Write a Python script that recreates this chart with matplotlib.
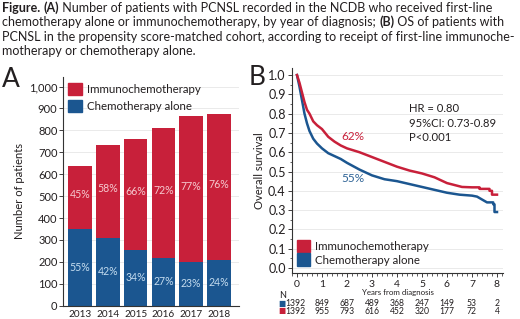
import numpy as np
import matplotlib
matplotlib.use("Agg")
import matplotlib.pyplot as plt
import matplotlib.transforms as mtransforms
from matplotlib.patches import Rectangle
from matplotlib.ticker import MultipleLocator, FuncFormatter

plt.rcParams['font.family'] = ['Lato', 'DejaVu Sans']

# Panel A data
years = ['2013', '2014', '2015', '2016', '2017', '2018']
chemo_n = [350, 309, 256, 219, 199, 210]
immuno_n = [288, 425, 504, 592, 667, 664]
chemo_pct = ['55%', '42%', '34%', '27%', '23%', '24%']
immuno_pct = ['45%', '58%', '66%', '72%', '77%', '76%']

# Panel B data (Kaplan-Meier)
t_immuno = [0, 0.1, 0.2, 0.3, 0.4, 0.5, 0.65, 0.8, 1.0, 1.25, 1.5, 1.75, 2.0, 2.5,
            3.0, 3.5, 4.0, 4.5, 5.0, 5.5, 6.0, 6.3, 6.6, 7.0, 7.3, 7.3, 7.7, 7.7,
            7.8, 7.8, 8.0]
s_immuno = [1.0, 0.96, 0.91, 0.86, 0.82, 0.80, 0.76, 0.74, 0.72, 0.68, 0.655, 0.635,
            0.62, 0.60, 0.575, 0.55, 0.525, 0.505, 0.49, 0.47, 0.44, 0.43, 0.42,
            0.418, 0.418, 0.41, 0.41, 0.40, 0.40, 0.38, 0.38]
t_chemo = [0, 0.1, 0.2, 0.3, 0.4, 0.5, 0.65, 0.8, 1.0, 1.25, 1.5, 1.75, 2.0, 2.5,
           3.0, 3.5, 4.0, 4.5, 5.0, 5.5, 6.0, 6.5, 7.0, 7.2, 7.4, 7.6, 7.85, 7.85,
           7.9, 7.9, 8.0]
s_chemo = [1.0, 0.94, 0.87, 0.80, 0.75, 0.71, 0.67, 0.645, 0.62, 0.595, 0.58, 0.565,
           0.545, 0.51, 0.48, 0.46, 0.45, 0.435, 0.42, 0.405, 0.39, 0.38, 0.375,
           0.37, 0.355, 0.34, 0.34, 0.33, 0.33, 0.29, 0.29]
risk_times = [0, 1, 2, 3, 4, 5, 6, 7, 8]
risk_chemo = [1392, 849, 687, 489, 368, 247, 149, 53, 2]
risk_immuno = [1392, 955, 793, 616, 452, 320, 177, 72, 4]
legend_labels = ['Immunochemotherapy', 'Chemotherapy alone']

red = '#C8203A'
blue = '#1B5690'
txt = '#231F20'
W, H = 520, 319

fig = plt.figure(figsize=(5.2, 3.19), dpi=100)
renderer = fig.canvas.get_renderer()


def fx(px):
    return px / W


def fy(py):
    return 1 - py / H


def fit(t, width_px, horizontal=True):
    # rescale a text so its length matches the reference (in pixels)
    bb = t.get_window_extent(renderer)
    cur = bb.width if horizontal else bb.height
    t.set_fontsize(t.get_fontsize() * width_px / cur)
    return t.get_fontsize()


# caption with bold pieces
caption = [
    [("Figure.", 'bold'), (" ", 'normal'), ("(A)", 'bold'),
     (" Number of patients with PCNSL recorded in the NCDB who received first-line", 'normal')],
    [("chemotherapy alone or immunochemotherapy, by year of diagnosis; ", 'normal'),
     ("(B)", 'bold'), (" OS of patients with", 'normal')],
    [("PCNSL in the propensity score-matched cohort, according to receipt of first-line immunoche-", 'normal')],
    [("motherapy or chemotherapy alone.", 'normal')],
]
for i, line in enumerate(caption):
    x = 2
    for s, w in line:
        t = fig.text(fx(x), fy(12 + i * 14.3), s, fontsize=9, fontweight=w, color=txt,
                     va='baseline', ha='left')
        x += t.get_window_extent(renderer).width

probe = fig.text(0, 0, legend_labels[0], fontsize=10)
leg_fs = fit(probe, 115)
probe.remove()


def square_legend(x, y_centers, w, h):
    for yc, c, lab in zip(y_centers, [red, blue], legend_labels):
        fig.patches.append(Rectangle((fx(x), fy(yc + h / 2)), w / W, h / H,
                                     transform=fig.transFigure, color=c))
        fig.text(fx(x + w + 5), fy(yc + 4), lab, fontsize=leg_fs, color=txt,
                 va='baseline', ha='left')


# ---- Panel A ----
axA = fig.add_axes([0.1212, 0.0417, 0.3385, 0.718])
pos = np.arange(len(years))
axA.bar(pos, chemo_n, width=0.85, color=blue, zorder=2)
axA.bar(pos, immuno_n, width=0.85, bottom=chemo_n, color=red, zorder=2)
for i in range(len(years)):
    axA.text(pos[i], chemo_n[i] / 2, chemo_pct[i], ha='center', va='center',
             fontsize=7.6, color='#C4DCEF', zorder=3)
    axA.text(pos[i], chemo_n[i] + immuno_n[i] / 2 + 12, immuno_pct[i], ha='center',
             va='center', fontsize=7.6, color='#F6C9CF', zorder=3)
axA.set_xlim(-0.61, 5.72)
axA.set_ylim(0, 1045)
axA.set_xticks(pos)
axA.set_xticklabels(years)
axA.yaxis.set_major_locator(MultipleLocator(100))
axA.yaxis.set_major_formatter(FuncFormatter(lambda v, p: f"{int(v):,}"))
axA.tick_params(axis='x', length=0, labelsize=7.2, pad=3, colors=txt)
axA.tick_params(axis='y', length=3, width=0.6, labelsize=8, pad=1, colors=txt)
axA.grid(axis='y', color='#E6E6E6', linewidth=0.6, zorder=0)
for sp in ['top', 'right']:
    axA.spines[sp].set_visible(False)
for sp in ['left', 'bottom']:
    axA.spines[sp].set_color('#333333')
    axA.spines[sp].set_linewidth(0.8)
ylabA = axA.set_ylabel('Number of patients', fontsize=9, color=txt, labelpad=3)
ylab_fs = fit(ylabA, 97, horizontal=False)
square_legend(68, [89, 106], 14, 12)
fig.text(fx(2), fy(87), 'A', fontsize=19, color=txt, ha='left', va='baseline')

# ---- Panel B ----
axB = fig.add_axes([0.5615, 0.1433, 0.4058, 0.6426])
axB.plot(t_chemo, s_chemo, color=blue, linewidth=1.8, zorder=3)
axB.plot(t_immuno, s_immuno, color=red, linewidth=1.8, zorder=3)
axB.set_xlim(-0.2, 8.24)
axB.set_ylim(-0.0275, 1.035)
axB.xaxis.set_major_locator(MultipleLocator(1))
axB.xaxis.set_minor_locator(MultipleLocator(0.2))
axB.yaxis.set_major_locator(MultipleLocator(0.1))
axB.yaxis.set_minor_locator(MultipleLocator(0.05))
axB.yaxis.set_major_formatter(FuncFormatter(lambda v, p: f"{v:.1f}"))
axB.tick_params(which='major', length=3, width=0.6, labelsize=9, pad=1.5, colors=txt)
axB.tick_params(which='minor', length=1.8, width=0.5, colors=txt)
axB.tick_params(axis='x', labelsize=7.5, pad=2)
axB.grid(axis='y', which='major', color='#E6E6E6', linewidth=0.6, zorder=0)
for sp in ['top', 'right']:
    axB.spines[sp].set_visible(False)
for sp in ['left', 'bottom']:
    axB.spines[sp].set_color('#333333')
    axB.spines[sp].set_linewidth(0.8)
axB.set_ylabel('Overall survival', fontsize=ylab_fs, color=txt, labelpad=2)
xlabB = axB.set_xlabel('Years from diagnosis', fontsize=7.5, color=txt, labelpad=0)
fit(xlabB, 72)
p62 = axB.text(2.25, 0.684, '62%', color=red, fontsize=9, ha='center', va='center')
fit(p62, 23)
axB.text(2.25, 0.466, '55%', color='#2F6496', fontsize=p62.get_fontsize(),
         ha='center', va='center')
hr2 = axB.text(4.5, 0.751, '95%CI: 0.73-0.89', fontsize=9, color=txt, va='center')
hr_fs = fit(hr2, 87)
axB.text(4.5, 0.829, 'HR = 0.80', fontsize=hr_fs, color=txt, va='center')
axB.text(4.5, 0.674, 'P<0.001', fontsize=hr_fs, color=txt, va='center')
square_legend(297, [246, 259.5], 13, 12.5)
fig.text(fx(249), fy(85), 'B', fontsize=19, color=txt, ha='left', va='baseline')

# risk table
trans = mtransforms.blended_transform_factory(axB.transData, fig.transFigure)
axB.text(-0.56, fy(295), 'N', transform=trans, fontsize=6.5, color=txt,
         ha='center', va='center')
for rows, col, yp in [(risk_chemo, blue, 303.5), (risk_immuno, red, 311)]:
    for tt, n in zip(risk_times, rows):
        axB.text(tt - (0.05 if tt == 0 else 0), fy(yp), str(n), transform=trans,
                 fontsize=6.2, color=txt, ha='center', va='center')
    axB.text(-0.6, fy(yp), '\u25a0', transform=trans, fontsize=5.5, color=col,
             ha='center', va='center', family=['DejaVu Sans'])

fig.savefig('out.png', dpi=100)
